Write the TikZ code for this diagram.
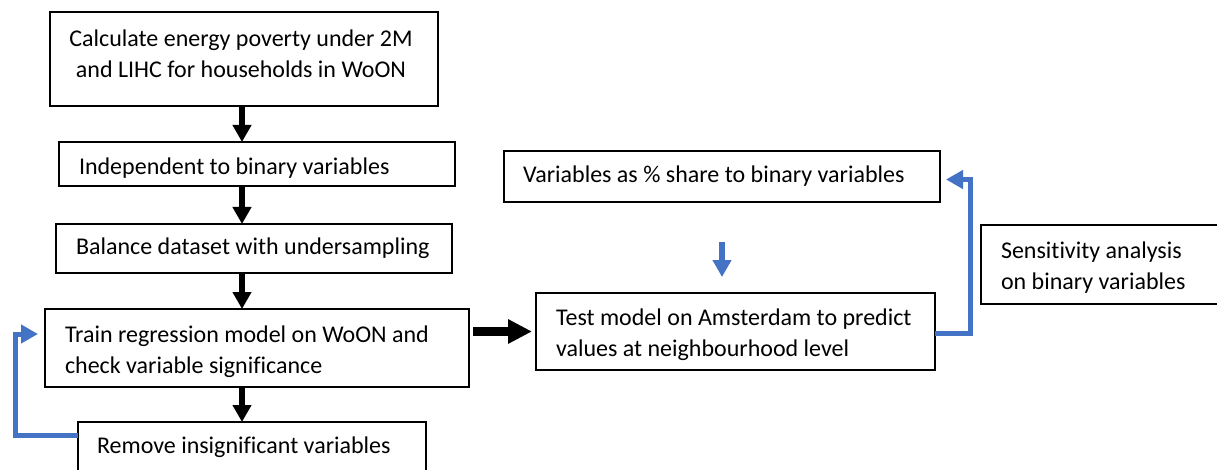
\documentclass[tikz,border=0pt]{standalone}
\usepackage{fontspec}
\setmainfont{Carlito}[Ligatures=NoCommon]
\usetikzlibrary{arrows.meta}
\definecolor{officeblue}{RGB}{68,114,196}
\begin{document}
\begin{tikzpicture}[x=1pt,y=-1pt,
  box/.style={draw=black, line width=1.8pt, fill=white, inner sep=0pt, outer sep=0pt, anchor=north west},
  txt/.style={inner sep=0pt, outer sep=0pt, anchor=north west, align=left, font=\fontsize{24}{31}\selectfont},
  barrow/.style={draw=black, line width=6pt, -{Triangle[width=18pt,length=17pt]}},
  harrow/.style={draw=black, line width=9pt, -{Triangle[width=23pt,length=24pt]}},
  blarrow/.style={draw=officeblue, line width=5pt, line join=miter, -{Triangle[width=18pt,length=17pt]}}
]
\useasboundingbox (0,0) rectangle (1217,470);
\clip (0,0) rectangle (1217,470);
\fill[white] (0,0) rectangle (1217,470);

% boxes
\node[box, minimum width=388pt, minimum height=94pt] (b1) at (50,12) {};
\node[box, minimum width=396pt, minimum height=44pt] (b2) at (59,142) {};
\node[box, minimum width=396pt, minimum height=49pt] (b3) at (56,224) {};
\node[box, minimum width=424pt, minimum height=78pt] (b4) at (45,309) {};
\node[box, minimum width=348pt, minimum height=56pt] (b5) at (78,422) {};
\node[box, minimum width=399pt, minimum height=77pt] (b6) at (536,293) {};
\node[box, minimum width=436pt, minimum height=51pt] (b7) at (504,151) {};
\node[box, minimum width=249pt, minimum height=79pt] (b8) at (981,225) {};

% texts
\node[txt, anchor=north, align=center] (t1) at (241,25.3) {\strut Calculate energy poverty under 2M\\and LIHC for households in WoON};
\begin{scope}
\clip (59,142) rectangle (455,177.5);
\node[txt] (t2) at (79,153.3) {\strut Independent to binary variables};
\end{scope}
\node[txt] (t3) at (76,233.3) {\strut Balance dataset with undersampling};
\node[txt] (t4) at (65,320.3) {\strut Train regression model on WoON and\\check variable significance};
\node[txt] (t5) at (97,431.3) {\strut Remove insignificant variables};
\node[txt] (t6) at (556,303.3) {\strut Test model on Amsterdam to predict\\values at neighbourhood level};
\node[txt] (t7) at (523,161.3) {\strut Variables as \% share to binary variables};
\node[txt] (t8) at (1001,236.3) {\strut Sensitivity analysis\\on binary variables};

% black arrows
\coordinate (ax) at (242,0);
\draw[barrow] (b1.south -| ax) -- (b2.north -| ax);
\draw[barrow] (b2.south -| ax) -- (b3.north -| ax);
\draw[barrow] (b3.south -| ax) -- (b4.north -| ax);
\draw[barrow] (b4.south -| ax) -- (b5.north -| ax);
\draw[harrow, shorten <=4pt, shorten >=4pt] (b4.east |- b6.west) -- (b6.west);

% blue feedback loop (left)
\coordinate (l1) at (15.5,435.5);
\coordinate (l2) at (15.5,334);
\coordinate (lt) at (38,334);
\draw[blarrow] (b5.west |- l1) -- (l1) -- (l2) -- (lt);

% blue arrow between right boxes
\coordinate (d1) at (722,242);
\coordinate (d2) at (722,277);
\draw[blarrow, line width=6pt] (d1) -- (d2);

% blue feedback loop (right)
\coordinate (r1) at (970.5,333.5);
\coordinate (r2) at (970.5,179.5);
\coordinate (rt) at (946,179.5);
\draw[blarrow] (b6.east |- r1) -- (r1) -- (r2) -- (rt);
\end{tikzpicture}
\end{document}
